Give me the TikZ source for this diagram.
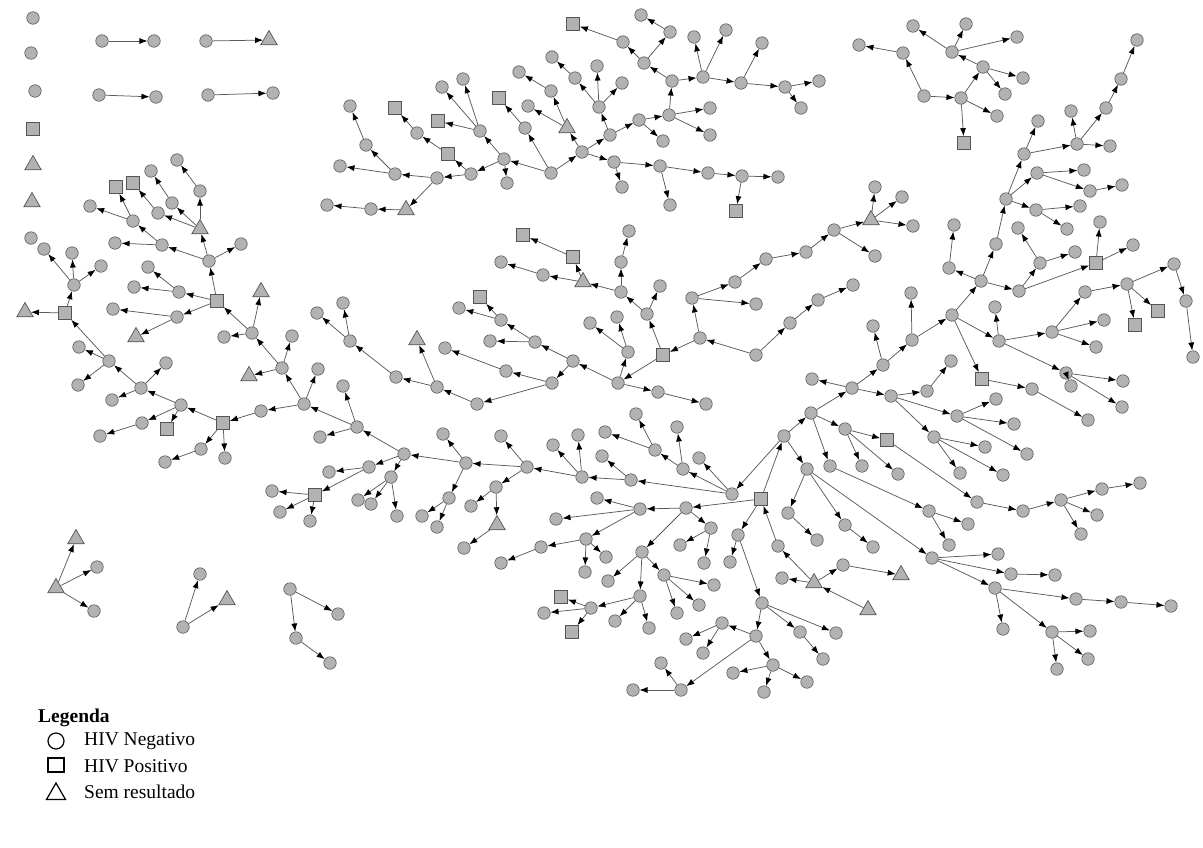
\documentclass[tikz,border=0pt]{standalone}
\usepackage{fontspec}
\setmainfont{Liberation Serif}
\usetikzlibrary{arrows.meta,shapes.geometric}
\definecolor{nfill}{RGB}{178,178,178}
\definecolor{nline}{RGB}{85,85,85}
\definecolor{ecol}{RGB}{90,90,90}
\tikzset{
  cn/.style={circle,fill=nfill,draw=nline,line width=0.6pt,minimum size=12.5pt,inner sep=0pt},
  sn/.style={rectangle,fill=nfill,draw=nline,line width=0.7pt,minimum size=13pt,inner sep=0pt},
  tn/.style={regular polygon,regular polygon sides=3,fill=nfill,draw=nline,line width=0.7pt,minimum size=19pt,inner sep=0pt},
  ed/.style={draw=ecol,line width=0.75pt,-{Latex[length=8pt,width=6pt,color=black]}},
  legtxt/.style={anchor=west,font=\fontsize{19.5}{21}\selectfont,inner sep=0pt}
}
\begin{document}
\begin{tikzpicture}[x=1pt,y=-1pt]
\useasboundingbox (0,0) rectangle (1203,847);
% circles
\foreach \x/\y in {33/18,31/53,35/91,31/238,102/41,154/41,206/41,99/95,156/97,208/95,273/93,
177/160,200/191,151/171,172/203,158/213,133/221,90/206,162/245,115/243,241/244,209/261,179/292,148/267,134/287,177/317,113/309,252/333,224/337,292/336,282/368,304/404,318/369,261/411,181/405,141/388,166/363,112/400,109/361,79/347,78/385,74/285,44/249,72/253,101/266,142/423,100/436,201/449,165/462,225/458,
551/173,504/159,525/128,480/131,442/87,463/79,507/183,471/174,417/133,437/178,395/174,366/145,350/106,340/166,371/209,327/205,582/152,551/91,519/72,528/106,610/135,599/107,575/78,552/57,597/66,622/83,639/120,663/141,669/115,710/108,710/135,672/81,644/63,623/42,670/32,641/15,703/77,694/37,726/30,741/83,762/43,785/87,819/81,801/108,614/162,622/187,660/166,670/205,708/173,742/176,778/177,
913/26,952/52,966/24,1017/37,983/67,1023/78,1005/94,961/98,997/116,924/96,903/53,859/45,
756/355,700/338,692/298,735/282,756/304,766/259,806/252,834/230,875/256,875/187,902/197,913/226,790/323,818/300,853/285,647/314,660/286,621/292,621/262,629/231,543/275,501/262,618/383,628/352,617/317,590/323,658/392,706/404,573/361,535/342,490/341,501/320,459/308,552/383,506/371,445/348,477/404,437/387,396/377,350/341,317/313,343/303,
778/546,782/578,843/565,784/436,686/508,738/535,732/494,811/413,807/469,631/480,683/469,699/458,655/450,677/427,636/414,605/432,582/477,602/456,527/467,578/435,553/445,466/463,501/436,496/487,471/506,464/548,404/454,443/434,449/498,422/516,437/527,357/427,369/467,391/477,358/500,371/504,397/516,329/472,272/491,280/512,310/521,343/386,320/437,
640/509,711/528,680/545,704/563,642/552,597/498,556/519,586/539,541/547,501/563,585/572,606/557,608/581,640/596,664/575,714/585,699/605,677/613,615/621,649/628,591/608,544/613,
730/562,762/603,756/636,800/632,836/633,823/659,722/623,773/665,681/690,686/639,703/653,733/673,807/682,764/692,661/663,633/690,
852/388,845/429,830/466,862/466,898/474,788/513,817/540,845/525,873/547,883/365,812/379,891/396,912/340,873/326,952/315,911/293,981/281,999/341,949/268,954/225,996/244,1019/291,1006/199,1024/154,1037/173,1036/210,1038/121,1077/144,1071/111,1110/146,1106/108,1121/79,1137/40,1084/170,1090/191,1122/185,1080/206,1067/229,1040/263,1018/228,1075/252,1100/222,1133/245,995/307,1052/332,1066/373,1085/292,1104/320,1096/347,1127/284,1174/264,1186/301,1193/357,1123/381,1122/407,1071/386,1032/389,1088/420,927/391,951/361,957/416,996/399,1014/424,1027/454,934/437,985/447,960/473,1003/475,977/502,1023/511,1061/500,1102/489,1140/483,1097/515,1081/534,929/511,968/524,949/545,932/558,998/554,1011/574,1055/575,995/588,1003/629,1076/599,1121/602,1171/606,1052/632,1090/631,1088/659,1057/669,
97/567,94/611,183/627,200/574,290/589,296/638,330/663,338/614}
  \node[cn] (c\x-\y) at (\x,\y) {};
% squares
\foreach \x/\y in {33/129,116/187,133/183,217/301,65/313,223/423,167/429,499/98,438/121,448/154,395/108,573/24,736/211,964/143,663/355,573/257,523/235,480/297,761/499,315/495,561/597,572/632,887/440,982/379,1096/263,1135/325,1158/311}
  \node[sn] (c\x-\y) at (\x,\y) {};
% triangles
\foreach \x/\y in {33/165,32/202,269/40,200/229,261/292,136/337,249/376,25/312,406/210,567/128,871/220,583/282,417/340,868/610,814/583,901/575,497/525,56/588,76/539,227/600}
  \node[tn] (c\x-\y) at (\x,\y) {};
% edges
\foreach \a/\b in {102-41/154-41,206-41/269-40,99-95/156-97,208-95/273-93,
200-229/200-191,200-191/177-160,200-229/172-203,172-203/151-171,200-229/158-213,158-213/133-183,133-221/116-187,133-221/90-206,162-245/133-221,162-245/115-243,209-261/162-245,209-261/241-244,209-261/200-229,217-301/209-261,217-301/179-292,179-292/148-267,179-292/134-287,217-301/177-317,177-317/113-309,177-317/136-337,252-333/217-301,252-333/261-292,252-333/224-337,282-368/252-333,282-368/292-336,282-368/249-376,304-404/282-368,304-404/318-369,304-404/261-411,261-411/223-423,223-423/181-405,223-423/201-449,201-449/165-462,223-423/225-458,181-405/141-388,181-405/142-423,142-423/100-436,181-405/167-429,141-388/109-361,141-388/166-363,141-388/112-400,109-361/65-313,109-361/79-347,109-361/78-385,65-313/74-285,65-313/25-312,74-285/44-249,74-285/72-253,74-285/101-266,
551-173/504-159,551-173/525-128,525-128/499-98,551-173/582-152,504-159/480-131,480-131/442-87,480-131/463-79,480-131/438-121,504-159/507-183,504-159/471-174,471-174/448-154,448-154/417-133,417-133/395-108,471-174/437-178,437-178/395-174,395-174/366-145,366-145/350-106,395-174/340-166,437-178/406-210,406-210/371-209,371-209/327-205,582-152/567-128,567-128/551-91,551-91/519-72,567-128/528-106,582-152/610-135,582-152/614-162,610-135/599-107,599-107/575-78,575-78/552-57,599-107/597-66,599-107/622-83,610-135/639-120,639-120/663-141,639-120/669-115,669-115/710-108,669-115/710-135,669-115/672-81,672-81/644-63,644-63/623-42,623-42/573-24,644-63/670-32,670-32/641-15,672-81/703-77,703-77/694-37,703-77/726-30,703-77/741-83,741-83/762-43,741-83/785-87,785-87/819-81,785-87/801-108,614-162/622-187,614-162/660-166,660-166/670-205,660-166/708-173,708-173/742-176,742-176/778-177,742-176/736-211,
952-52/913-26,952-52/966-24,952-52/1017-37,983-67/952-52,983-67/1023-78,983-67/1005-94,961-98/983-67,961-98/997-116,961-98/964-143,924-96/961-98,924-96/903-53,903-53/859-45,
756-355/700-338,756-355/790-323,790-323/818-300,818-300/853-285,700-338/692-298,692-298/735-282,692-298/756-304,735-282/766-259,766-259/806-252,806-252/834-230,834-230/871-220,834-230/875-256,871-220/875-187,871-220/902-197,871-220/913-226,700-338/663-355,663-355/647-314,647-314/660-286,647-314/621-292,621-292/621-262,621-262/629-231,621-292/583-282,583-282/573-257,573-257/523-235,583-282/543-275,543-275/501-262,663-355/618-383,618-383/628-352,628-352/617-317,628-352/590-323,618-383/658-392,658-392/706-404,618-383/573-361,573-361/535-342,535-342/490-341,535-342/501-320,501-320/459-308,501-320/480-297,573-361/552-383,552-383/506-371,506-371/445-348,552-383/477-404,477-404/437-387,437-387/417-340,437-387/396-377,396-377/350-341,350-341/317-313,350-341/343-303,
868-610/814-583,814-583/778-546,814-583/782-578,814-583/843-565,843-565/901-575,778-546/761-499,761-499/784-436,761-499/686-508,761-499/738-535,784-436/732-494,784-436/811-413,784-436/807-469,732-494/631-480,732-494/683-469,732-494/699-458,683-469/655-450,683-469/677-427,655-450/636-414,655-450/605-432,631-480/582-477,631-480/602-456,582-477/527-467,582-477/578-435,582-477/553-445,527-467/466-463,527-467/501-436,527-467/496-487,496-487/471-506,496-487/497-525,497-525/464-548,466-463/404-454,466-463/443-434,466-463/449-498,449-498/422-516,449-498/437-527,404-454/357-427,404-454/369-467,404-454/391-477,391-477/358-500,391-477/371-504,391-477/397-516,369-467/315-495,369-467/329-472,315-495/272-491,315-495/280-512,315-495/310-521,357-427/304-404,357-427/343-386,357-427/320-437,
686-508/640-509,686-508/711-528,711-528/680-545,711-528/704-563,686-508/642-552,640-509/597-498,640-509/556-519,640-509/586-539,586-539/541-547,541-547/501-563,586-539/585-572,586-539/606-557,642-552/608-581,642-552/640-596,642-552/664-575,664-575/714-585,664-575/699-605,664-575/677-613,640-596/615-621,640-596/649-628,640-596/591-608,591-608/561-597,591-608/544-613,591-608/572-632,
738-535/730-562,738-535/762-603,762-603/756-636,762-603/800-632,762-603/836-633,800-632/823-659,756-636/722-623,756-636/773-665,756-636/681-690,722-623/686-639,722-623/703-653,773-665/733-673,773-665/807-682,773-665/764-692,681-690/661-663,681-690/633-690,
811-413/852-388,811-413/845-429,811-413/830-466,845-429/887-440,845-429/862-466,845-429/898-474,807-469/788-513,788-513/817-540,807-469/845-525,845-525/873-547,852-388/883-365,852-388/812-379,852-388/891-396,883-365/912-340,883-365/873-326,912-340/952-315,912-340/911-293,952-315/981-281,952-315/999-341,952-315/982-379,981-281/949-268,949-268/954-225,981-281/996-244,981-281/1019-291,996-244/1006-199,1006-199/1024-154,1006-199/1037-173,1006-199/1036-210,1024-154/1038-121,1024-154/1077-144,1077-144/1071-111,1077-144/1110-146,1077-144/1106-108,1106-108/1121-79,1121-79/1137-40,1037-173/1084-170,1037-173/1090-191,1090-191/1122-185,1036-210/1080-206,1036-210/1067-229,1019-291/1040-263,1040-263/1018-228,1040-263/1075-252,1019-291/1096-263,1096-263/1100-222,1096-263/1133-245,999-341/995-307,999-341/1052-332,999-341/1066-373,1052-332/1085-292,1052-332/1104-320,1052-332/1096-347,1085-292/1127-284,1127-284/1174-264,1127-284/1135-325,1127-284/1158-311,1174-264/1186-301,1186-301/1193-357,1066-373/1123-381,1066-373/1122-407,1066-373/1071-386,982-379/1032-389,1032-389/1088-420,891-396/927-391,927-391/951-361,891-396/957-416,957-416/996-399,957-416/1014-424,957-416/1027-454,891-396/934-437,934-437/985-447,934-437/960-473,934-437/1003-475,887-440/977-502,977-502/1023-511,1023-511/1061-500,1061-500/1102-489,1102-489/1140-483,1061-500/1097-515,1061-500/1081-534,830-466/929-511,929-511/968-524,929-511/949-545,807-469/932-558,932-558/998-554,932-558/1011-574,1011-574/1055-575,932-558/995-588,995-588/1003-629,995-588/1076-599,1076-599/1121-602,1121-602/1171-606,995-588/1052-632,1052-632/1090-631,1052-632/1088-659,1052-632/1057-669,
56-588/76-539,56-588/97-567,56-588/94-611,183-627/200-574,183-627/227-600,290-589/296-638,296-638/330-663,290-589/338-614}
  \draw[ed] (c\a) -- (c\b);
% legend
\node[legtxt,font=\fontsize{19.5}{21}\selectfont\bfseries] (lg) at (38,718) {Legenda};
\node[circle,draw=black,line width=1.2pt,minimum size=16pt,inner sep=0pt] (l1) at (56,741) {};
\node[rectangle,draw=black,line width=1.2pt,minimum width=16pt,minimum height=14pt,inner sep=0pt] (l2) at (56,765) {};
\node[regular polygon,regular polygon sides=3,draw=black,line width=1.2pt,minimum size=22pt,inner sep=0pt] (l3) at (56,794) {};
\node[legtxt] (t1) at (84,741) {HIV Negativo};
\node[legtxt] (t2) at (84,766) {HIV Positivo};
\node[legtxt] (t3) at (84,792) {Sem resultado};
\end{tikzpicture}
\end{document}
